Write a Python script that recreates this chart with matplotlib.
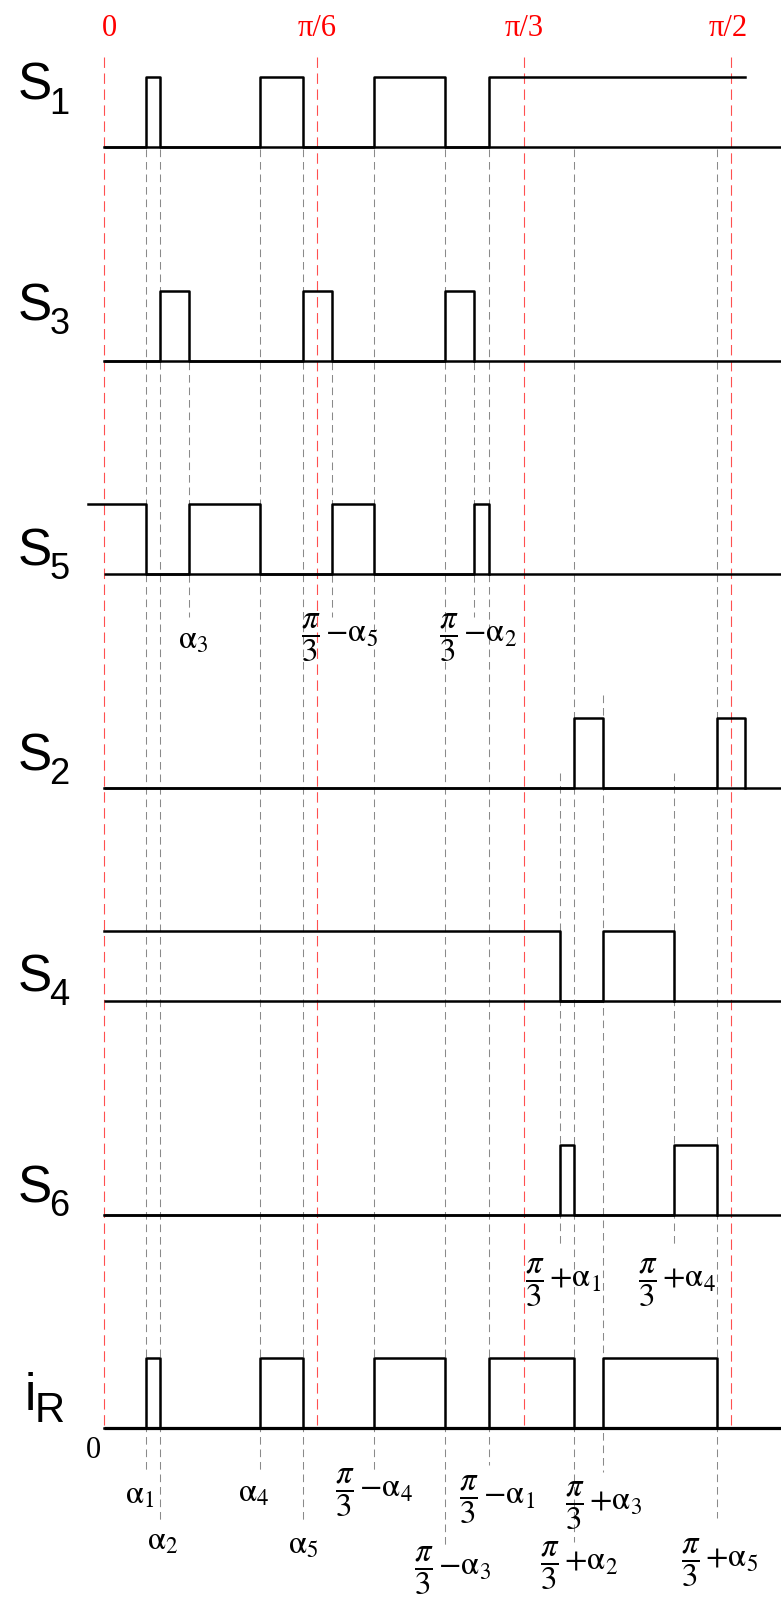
import matplotlib
matplotlib.use('Agg')
import matplotlib.pyplot as plt

plt.rcParams['mathtext.fontset'] = 'stix'
plt.rcParams['lines.scale_dashes'] = False

# switching angles (degrees) of the first 90 degrees
alpha = [6.09, 8.15, 12.21, 22.52, 28.59]      # a1 .. a5
minus = [55.25, 53.18, 49.03, 38.88, 32.81]    # pi/3 - a1 .. a5
plus = [65.48, 67.48, 71.62, 81.84, 87.99]     # pi/3 + a1 .. a5
tail = 92.1     # traces that run past pi/2 stop here
lead = -2.2     # S5 is still on from the previous sector

a1, a2, a3, a4, a5 = alpha
m1, m2, m3, m4, m5 = minus
p1, p2, p3, p4, p5 = plus

ref_deg = [0, 30.6, 60.3, 90]
ref_text = ['0', 'π/6', 'π/3', 'π/2']
ref_text_x = [0.9, 30.6, 60.3, 89.7]

# switching sequences: transition instants and level after each one
rows = [
    ('S', '1', [0, a1, a2, a4, a5, m4, m3, m1, tail], [0, 1, 0, 1, 0, 1, 0, 1, 1]),
    ('S', '3', [0, a2, a3, a5, m5, m3, m2], [0, 1, 0, 1, 0, 1, 0]),
    ('S', '5', [lead, a1, a3, a4, m5, m4, m2, m1], [1, 0, 1, 0, 1, 0, 1, 0]),
    ('S', '2', [0, p2, p3, p5, tail], [0, 1, 0, 1, 0]),
    ('S', '4', [0, p1, p3, p4], [1, 0, 1, 0]),
    ('S', '6', [0, p1, p2, p4, p5], [0, 1, 0, 1, 0]),
    ('i', 'R', [0, a1, a2, a4, a5, m4, m3, m1, p2, p3, p5], [0, 1, 0, 1, 0, 1, 0, 1, 0, 1, 0]),
]
# how far above each trace baseline its name sits (pixels)
name_lift = [47, 40, 9, 17, 10, 12, 6]

# gray guides: angle, top and bottom (figure pixels)
guides = [
    (a1, 149, 1471), (a2, 149, 1520), (a3, 362, 617), (a4, 149, 1470),
    (a5, 149, 1520), (m5, 362, 617), (m4, 149, 1470), (m3, 149, 1548),
    (m2, 362, 617), (m1, 149, 1465), (p1, 773, 1245), (p2, 149, 1542),
    (p3, 695, 1472), (p4, 773, 1245), (p5, 149, 1518),
]

frac = r'$\dfrac{\pi}{3}\,{%s}\mathrm{\alpha}_%d$'
angle_labels = [
    (r'$\mathrm{\alpha}_3$', 10.68, 639),
    (frac % ('-', 5), 28.33, 638),
    (frac % ('-', 2), 48.15, 637.5),
    (frac % ('+', 1), 60.49, 1282.5),
    (frac % ('+', 4), 76.71, 1282.5),
    (r'$\mathrm{\alpha}_1$', 3.07, 1494.5),
    (r'$\mathrm{\alpha}_2$', 6.23, 1539.5),
    (r'$\mathrm{\alpha}_4$', 19.29, 1492.5),
    (r'$\mathrm{\alpha}_5$', 26.47, 1544.5),
    (frac % ('-', 4), 33.21, 1493),
    (frac % ('-', 3), 44.55, 1571),
    (frac % ('-', 1), 51.01, 1500),
    (frac % ('+', 3), 66.22, 1505.5),
    (frac % ('+', 2), 62.64, 1566),
    (frac % ('+', 5), 82.88, 1562.5),
]

row_top = 147
row_step = 213.5
pulse_h = 70
x_right = 97.23
sans = ['Liberation Sans Narrow', 'Liberation Sans']

fig = plt.figure(figsize=(7.81, 16.02), dpi=100)
ax = fig.add_axes([0, 0, 1, 1])
ax.set_xlim(-14.87, x_right)
ax.set_ylim(1602, 0)
ax.axis('off')

# reference angles
for x in ref_deg:
    ax.plot([x, x], [57, 1428], color='#ff5050', lw=0.8,
            dashes=(7.5, 4), zorder=1)
for x, s in zip(ref_text_x, ref_text):
    ax.text(x, 28, s, color='#ff0000', fontsize=22, family='Liberation Serif',
            ha='center', va='center')

for x, y0, y1 in guides:
    ax.plot([x, x], [y0, y1], color='#8a8a8a', lw=0.75,
            dashes=(5.5, 3.5), zorder=1)

for i, (name, sub, t, lv) in enumerate(rows):
    base = row_top + i * row_step
    lw_base = 2.3 if name == 'i' else 1.8
    ax.plot([0, x_right], [base, base], color='black', lw=lw_base, zorder=3,
            solid_capstyle='butt')
    ax.plot(t, [base - pulse_h * v for v in lv], color='black', lw=1.8,
            drawstyle='steps-post', zorder=3)
    y_name = base - name_lift[i]
    if name == 'S':
        ax.text(-12.4, y_name, name, fontsize=37, family=sans,
                ha='left', va='baseline')
        ax.text(-7.8, y_name + 14, sub, fontsize=26, family=sans,
                ha='left', va='baseline')
    else:
        ax.text(-11.4, y_name - 12, name, fontsize=37, family=sans,
                ha='left', va='baseline')
        ax.text(-9.9, y_name, sub, fontsize=30, family=sans,
                ha='left', va='baseline')

for s, x, y in angle_labels:
    ax.text(x, y, s, fontsize=23.5, ha='left', va='center')

ax.text(-1.52, 1450, '0', fontsize=22, family='Liberation Serif',
        ha='center', va='center')

fig.savefig('out.png', dpi=100, facecolor='white')
